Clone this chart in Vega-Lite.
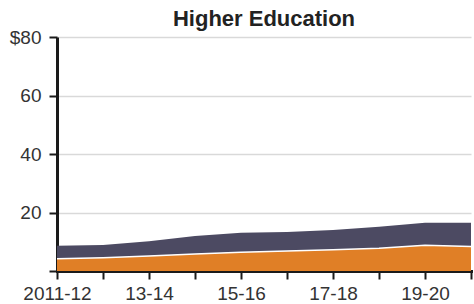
{
  "$schema": "https://vega.github.io/schema/vega-lite/v6.json",
  "width": 414,
  "height": 234,
  "autosize": {"type": "none"},
  "padding": {"left": 57, "top": 37, "right": 3, "bottom": 33},
  "background": "white",
  "title": {"text": "Higher Education", "font": "Liberation Sans", "fontSize": 22, "fontWeight": "bold", "color": "#222222", "offset": -3, "anchor": "middle"},
  "config": {"view": {"stroke": null}},
  "data": {"values": [
    {"year": "2011-12", "series": "Series 1", "value": 4.2},
    {"year": "12-13", "series": "Series 1", "value": 4.5},
    {"year": "13-14", "series": "Series 1", "value": 5.1},
    {"year": "14-15", "series": "Series 1", "value": 5.8},
    {"year": "15-16", "series": "Series 1", "value": 6.4},
    {"year": "16-17", "series": "Series 1", "value": 6.8},
    {"year": "17-18", "series": "Series 1", "value": 7.3},
    {"year": "18-19", "series": "Series 1", "value": 7.8},
    {"year": "19-20", "series": "Series 1", "value": 8.8},
    {"year": "20-21", "series": "Series 1", "value": 8.4},
    {"year": "2011-12", "series": "Series 2", "value": 4.4},
    {"year": "12-13", "series": "Series 2", "value": 4.4},
    {"year": "13-14", "series": "Series 2", "value": 5.1},
    {"year": "14-15", "series": "Series 2", "value": 6.2},
    {"year": "15-16", "series": "Series 2", "value": 6.7},
    {"year": "16-17", "series": "Series 2", "value": 6.5},
    {"year": "17-18", "series": "Series 2", "value": 6.7},
    {"year": "18-19", "series": "Series 2", "value": 7.3},
    {"year": "19-20", "series": "Series 2", "value": 7.7},
    {"year": "20-21", "series": "Series 2", "value": 8.1}
  ]},
  "encoding": {
    "x": {
      "field": "year", "type": "ordinal", "sort": null,
      "scale": {"type": "point", "padding": 0},
      "axis": {
        "title": null, "labelAngle": 0, "grid": false,
        "domainColor": "#1a1a1a", "domainWidth": 3, "domainCap": "square",
        "tickColor": "#1a1a1a", "tickWidth": 2, "tickSize": 8,
        "labelFont": "Liberation Sans", "labelFontSize": 19, "labelColor": "#333333",
        "labelPadding": 5, "labelOverlap": false, "labelBound": false, "labelFlush": false,
        "labelExpr": "indexof(['2011-12','13-14','15-16','17-18','19-20'], datum.value) >= 0 ? datum.value : ''"
      }
    }
  },
  "layer": [
    {
      "mark": {"type": "area", "interpolate": "linear"},
      "encoding": {
        "y": {
          "field": "value", "type": "quantitative", "stack": "zero",
          "scale": {"domain": [0, 80], "nice": false},
          "axis": {
            "title": null, "values": [0, 10, 20, 30, 40, 50, 60, 70, 80],
            "grid": true, "gridColor": "#d9d9d9", "gridWidth": 1.5,
            "domainColor": "#1a1a1a", "domainWidth": 3,
            "tickColor": "#1a1a1a", "tickWidth": 2, "tickSize": 8,
            "labelFont": "Liberation Sans", "labelFontSize": 19, "labelColor": "#333333",
            "labelPadding": 8,
            "labelExpr": "datum.value == 80 ? '$80' : (datum.value > 0 && datum.value % 20 == 0 ? datum.value : '')"
          }
        },
        "color": {
          "field": "series", "type": "nominal", "legend": null,
          "scale": {"domain": ["Series 1", "Series 2"], "range": ["#E07F26", "#4C4A62"]}
        },
        "order": {"field": "series", "sort": "ascending"}
      }
    },
    {
      "transform": [{"filter": "datum.series == 'Series 1'"}],
      "mark": {"type": "line", "color": "white", "strokeWidth": 1.5},
      "encoding": {
        "y": {"field": "value", "type": "quantitative"}
      }
    }
  ]
}
